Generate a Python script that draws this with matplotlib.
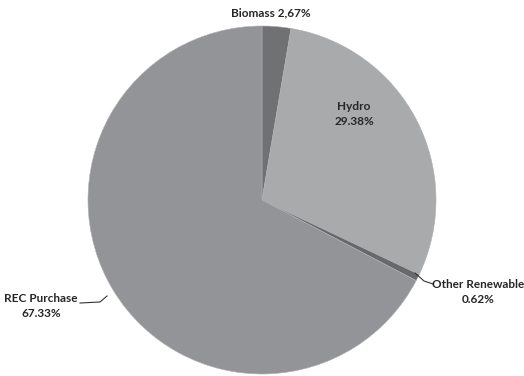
import matplotlib
matplotlib.use("Agg")
import matplotlib.pyplot as plt
import numpy as np

categories = ["Biomass", "Hydro", "Other Renewable", "REC Purchase"]
values = [2.67, 29.38, 0.62, 67.33]
labels = ["Biomass 2,67%", "Hydro\n29.38%", "Other Renewable\n0.62%", "REC Purchase\n67.33%"]
colors = ["#707173", "#a9aaac", "#68686a", "#939497"]

W, H = 524, 376
fig = plt.figure(figsize=(W / 100, H / 100), dpi=100)
cx, cy, R = 262, 200, 174
ax = fig.add_axes([(cx - R) / W, (H - cy - R) / H, 2 * R / W, 2 * R / H])

wedges, _ = ax.pie(values, colors=colors, startangle=90, counterclock=False,
                   radius=1, center=(0, 0), frame=True,
                   wedgeprops=dict(edgecolor="#b0b0b2", linewidth=0.4))
ax.set_xlim(-1, 1)
ax.set_ylim(-1, 1)
ax.set_aspect("auto")
ax.axis("off")


def d(px, py):
    return ((px - cx) / R, (cy - py) / R)


font = dict(family=["Lato", "DejaVu Sans"], fontsize=8.5, fontweight="bold", color="#262626")

for w in wedges:
    w.set_clip_on(False)

ax.text(*d(271, 13), labels[0], ha="center", va="center", clip_on=False, **font)
ax.text(*d(354, 114), labels[1], ha="center", va="center", linespacing=1.45, clip_on=False, **font)
ax.text(*d(478, 292), labels[2], ha="center", va="center", linespacing=1.45, clip_on=False, **font)
ax.text(*d(41, 306), labels[3], ha="center", va="center", linespacing=1.45, clip_on=False, **font)

# leader lines
p = [d(415, 273), d(424, 281), d(433, 284)]
ax.plot([q[0] for q in p], [q[1] for q in p], color="#333333", lw=0.8, clip_on=False)
p = [d(80, 303), d(100, 302), d(107, 296)]
ax.plot([q[0] for q in p], [q[1] for q in p], color="#333333", lw=0.8, clip_on=False)

fig.savefig("out.png", dpi=100, facecolor="white")
